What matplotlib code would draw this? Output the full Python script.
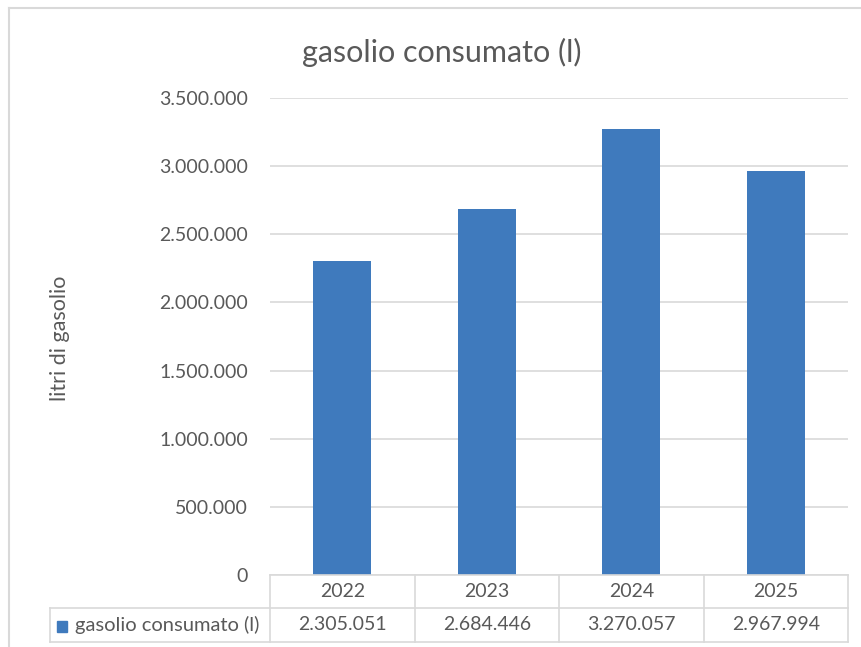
import numpy as np
import matplotlib
matplotlib.use('Agg')
import matplotlib.pyplot as plt
from matplotlib.lines import Line2D

# chart data
years = ['2022', '2023', '2024', '2025']
litri = [2305051, 2684446, 3270057, 2967994]
serie = 'gasolio consumato (l)'
y_ticks = [0, 500000, 1000000, 1500000, 2000000, 2500000, 3000000, 3500000]

blue = '#3f7abd'
grey_txt = '#595959'
grey_line = '#d9d9d9'

plt.rcParams['font.family'] = ['Lato', 'DejaVu Sans']

W, H = 861, 647
fig = plt.figure(figsize=(W / 100, H / 100), dpi=100)

def fx(px):
    return px / W

def fy(py):
    return 1 - py / H

# plot area in pixels
left, right, top, bottom = 270, 848, 98, 575
ax = fig.add_axes([fx(left), fy(bottom), fx(right) - fx(left), fy(top) - fy(bottom)])

x = np.arange(len(years))
ax.bar(x, litri, width=0.4, color=blue, zorder=3)
ax.set_xlim(-0.5, len(years) - 0.5)
ax.set_ylim(0, 3500000)
ax.set_yticks(y_ticks)
ax.set_yticklabels([f'{v:,}'.replace(',', '.') for v in y_ticks])
ax.yaxis.grid(True, color=grey_line, linewidth=1.2, zorder=0)
ax.set_xticks([])
ax.tick_params(axis='y', length=0, pad=16, labelsize=14, labelcolor=grey_txt)
for s in ['top', 'right', 'left', 'bottom']:
    ax.spines[s].set_visible(False)

fig.text(fx(442), fy(52), 'gasolio consumato (l)', fontsize=22, color=grey_txt,
         ha='center', va='center')
fig.text(fx(60), fy(338), 'litri di gasolio', rotation=90, fontsize=15.5,
         color=grey_txt, ha='center', va='center')

# data table below the plot
row1, row2, row3 = bottom, 608, 642
col_w = (right - left) / len(years)
head_left = 50

def hline(y, x0, x1):
    fig.add_artist(Line2D([fx(x0), fx(x1)], [fy(y), fy(y)], color=grey_line, lw=1.2))

def vline(x, y0, y1):
    fig.add_artist(Line2D([fx(x), fx(x)], [fy(y0), fy(y1)], color=grey_line, lw=1.2))

hline(row1, left, right)
hline(row2, head_left, right)
hline(row3, head_left, right)
for i in range(len(years) + 1):
    vline(left + i * col_w, row1, row3)
vline(head_left, row2, row3)

for i, (yr, v) in enumerate(zip(years, litri)):
    cx = left + (i + 0.5) * col_w
    fig.text(fx(cx), fy((row1 + row2) / 2), yr, ha='center', va='center',
             fontsize=14, color=grey_txt)
    fig.text(fx(cx), fy((row2 + row3) / 2), f'{v:,}'.replace(',', '.'),
             ha='center', va='center', fontsize=14, color=grey_txt)

# legend key in the table header
fig.add_artist(plt.Rectangle((fx(57), fy(632)), fx(10), fy(621) - fy(632),
                             color=blue, transform=fig.transFigure))
fig.text(fx(75), fy((row2 + row3) / 2), serie, ha='left', va='center',
         fontsize=14.5, color=grey_txt)

# chart border
fig.add_artist(Line2D([fx(9), fx(W)], [fy(8), fy(8)], color=grey_line, lw=1.5))
fig.add_artist(Line2D([fx(9), fx(9)], [fy(8), fy(H)], color=grey_line, lw=1.5))

fig.savefig('out.png', dpi=100)
